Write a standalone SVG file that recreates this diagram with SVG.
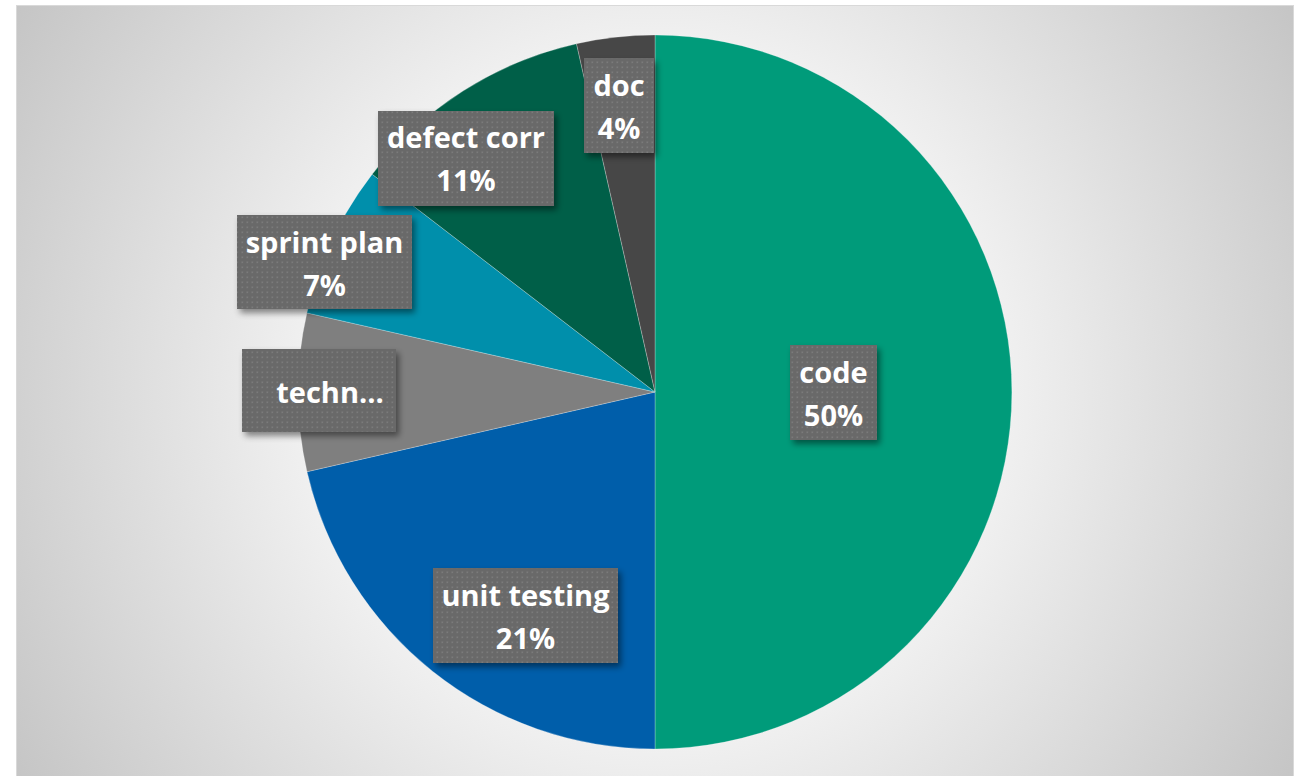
<svg xmlns="http://www.w3.org/2000/svg" width="1302" height="776" viewBox="0 0 1302 776">
<defs>
<radialGradient id="bg" gradientUnits="userSpaceOnUse" cx="655" cy="392" r="820">
<stop offset="0" stop-color="#ffffff"/>
<stop offset="0.42" stop-color="#f1f1f1"/>
<stop offset="1" stop-color="#bdbdbd"/>
</radialGradient>
<pattern id="dots" width="5" height="5" patternUnits="userSpaceOnUse">
<rect x="1.5" y="1.5" width="1.6" height="1.6" fill="#7b7b7b"/>
</pattern>
<filter id="shadow" x="-20%" y="-20%" width="140%" height="150%">
<feDropShadow dx="3" dy="4" stdDeviation="3" flood-color="#000" flood-opacity="0.45"/>
</filter>
<style>
.slice{stroke:#ffffff;stroke-opacity:0.25;stroke-width:1}
.box{fill:#696969}
.dot{fill:url(#dots)}
.lbl{font-family:"Open Sans","Liberation Sans",sans-serif;font-weight:bold;font-size:29px;fill:#ffffff;text-anchor:middle}
</style>
</defs>
<rect x="0" y="0" width="1302" height="776" fill="#ffffff"/>
<rect x="16.5" y="5.5" width="1277" height="790" fill="url(#bg)" stroke="#d9d9d9" stroke-width="1"/>

<g id="code">
<path class="slice" fill="#009b7a" d="M655,392 L655,35 A357,357 0 0 1 655,749 Z"/>
<g filter="url(#shadow)"><rect class="box" x="790" y="345" width="87" height="95"/></g>
<rect class="dot" x="790" y="345" width="87" height="95"/>
<text class="lbl" x="833.5" y="383">code</text>
<text class="lbl" x="833.5" y="426">50%</text>
</g>

<g id="unit-testing">
<path class="slice" fill="#005eaa" d="M655,392 L655,749 A357,357 0 0 1 307,471.7 Z"/>
<g filter="url(#shadow)"><rect class="box" x="433" y="568" width="185" height="95"/></g>
<rect class="dot" x="433" y="568" width="185" height="95"/>
<text class="lbl" x="525.5" y="606">unit testing</text>
<text class="lbl" x="525.5" y="649">21%</text>
</g>

<g id="techn">
<path class="slice" fill="#7f7f7f" d="M655,392 L307,471.7 A357,357 0 0 1 306.9,312.9 Z"/>
<g filter="url(#shadow)"><rect class="box" x="242" y="349" width="154" height="83"/></g>
<rect class="dot" x="242" y="349" width="154" height="83"/>
<text class="lbl" x="330" y="403">techn…</text>
</g>

<g id="sprint-plan">
<path class="slice" fill="#008fab" d="M655,392 L306.9,312.9 A357,357 0 0 1 372.2,174.2 Z"/>
<g filter="url(#shadow)"><rect class="box" x="237" y="215" width="175" height="94"/></g>
<rect class="dot" x="237" y="215" width="175" height="94"/>
<text class="lbl" x="324.5" y="253">sprint plan</text>
<text class="lbl" x="324.5" y="296">7%</text>
</g>

<g id="defect-corr">
<path class="slice" fill="#005f48" d="M655,392 L372.2,174.2 A357,357 0 0 1 576.5,43.7 Z"/>
<g filter="url(#shadow)"><rect class="box" x="378" y="111" width="176" height="95"/></g>
<rect class="dot" x="378" y="111" width="176" height="95"/>
<text class="lbl" x="466" y="148">defect corr</text>
<text class="lbl" x="466" y="191">11%</text>
</g>

<g id="doc">
<path class="slice" fill="#474747" d="M655,392 L576.5,43.7 A357,357 0 0 1 655,35 Z"/>
<g filter="url(#shadow)"><rect class="box" x="584" y="58" width="70" height="95"/></g>
<rect class="dot" x="584" y="58" width="70" height="95"/>
<text class="lbl" x="619" y="96">doc</text>
<text class="lbl" x="619" y="139">4%</text>
</g>

<g id="connectors"/>
</svg>
